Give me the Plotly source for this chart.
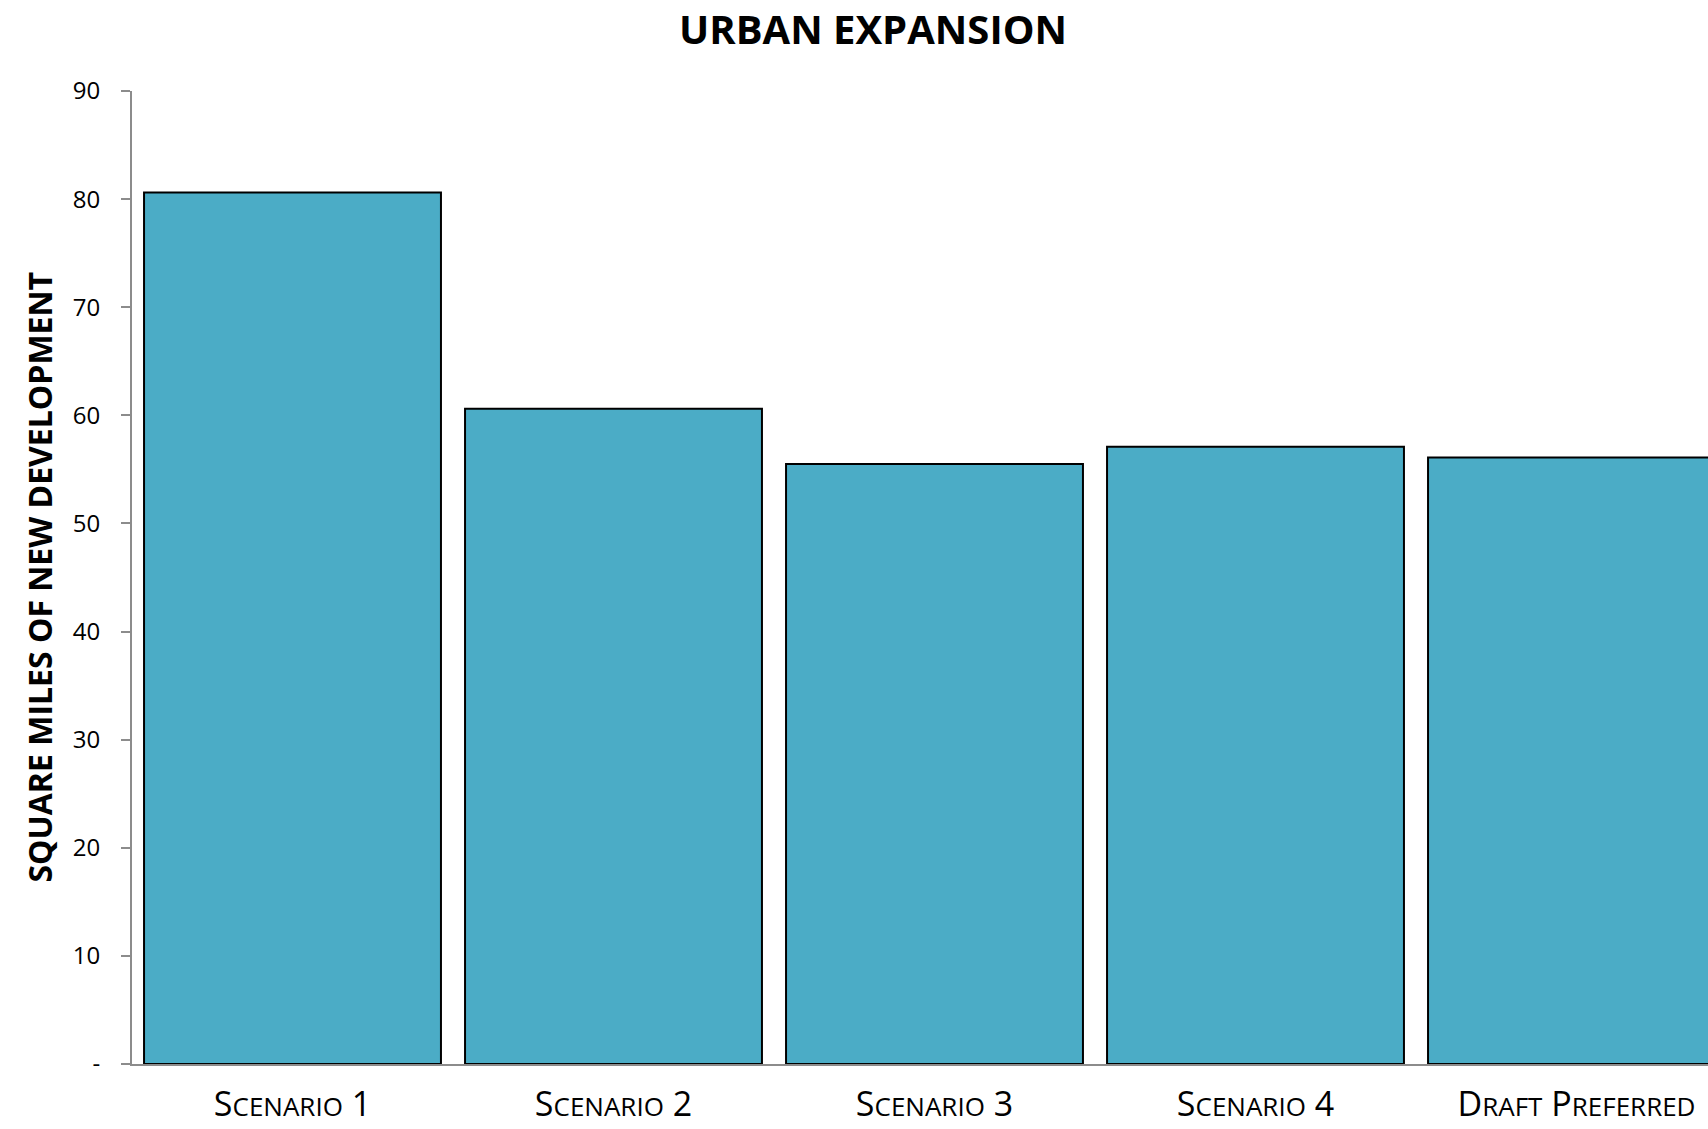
import plotly.graph_objects as go

categories = ["Scenario 1", "Scenario 2", "Scenario 3", "Scenario 4", "Draft Preferred"]
values = [80.6, 60.6, 55.5, 57.1, 56.1]
y_tickvals = [0, 10, 20, 30, 40, 50, 60, 70, 80, 90]
y_ticktext = ["-", "10", "20", "30", "40", "50", "60", "70", "80", "90"]
y_title = "SQUARE MILES OF NEW DEVELOPMENT"
chart_title = "URBAN EXPANSION"

BIG = 34
SMALL = 26


def small_caps(text):
    out = []
    for word in text.split(" "):
        if word[0].isalpha():
            out.append(word[0].upper() + "<span style='font-size:%dpx'>%s</span>" % (SMALL, word[1:].upper()))
        else:
            out.append(word)
    return " ".join(out)


x_labels = [small_caps(c) for c in categories]

fig = go.Figure(
    go.Bar(
        x=list(range(len(categories))),
        y=values,
        marker=dict(color="#4BACC6", line=dict(color="#000000", width=2)),
    )
)

L, T, B = 132, 91, 65
W, H = 1708, 1129

fig.update_layout(
    width=W,
    height=H,
    paper_bgcolor="white",
    plot_bgcolor="white",
    margin=dict(l=L, r=0, t=T, b=B, pad=0, autoexpand=False),
    bargap=0.075,
    showlegend=False,
    font=dict(family="Open Sans", color="#000000"),
    title=dict(
        text="<b>%s</b>" % chart_title,
        x=873 / W,
        xref="container",
        xanchor="center",
        y=1 - 30 / H,
        yref="container",
        yanchor="middle",
        font=dict(family="Open Sans", size=40, color="#000000"),
    ),
)

fig.add_annotation(
    text="<b>%s</b>" % y_title,
    textangle=-90,
    x=(39 - L) / (W - L),
    xref="paper",
    y=0.5,
    yref="paper",
    xanchor="center",
    yanchor="middle",
    showarrow=False,
    font=dict(family="Open Sans", size=32, color="#000000"),
)

fig.update_xaxes(
    tickmode="array",
    tickvals=list(range(len(categories))),
    ticktext=x_labels,
    range=[-0.5, -0.5 + 1576 / 321],
    showline=True,
    linecolor="#8c8c8c",
    linewidth=2,
    ticks="",
    showgrid=False,
    zeroline=False,
    automargin=False,
    tickfont=dict(family="Open Sans", size=BIG, color="#000000"),
    ticklabelstandoff=9,
)

fig.update_yaxes(
    range=[0, 90],
    tickmode="array",
    tickvals=y_tickvals,
    ticktext=y_ticktext,
    showline=True,
    linecolor="#8c8c8c",
    linewidth=2,
    ticks="outside",
    ticklen=9,
    tickwidth=2,
    tickcolor="#8c8c8c",
    showgrid=False,
    zeroline=False,
    automargin=False,
    tickfont=dict(family="Open Sans", size=24, color="#000000"),
    ticklabelstandoff=16,
)

fig.write_html("out.html")
